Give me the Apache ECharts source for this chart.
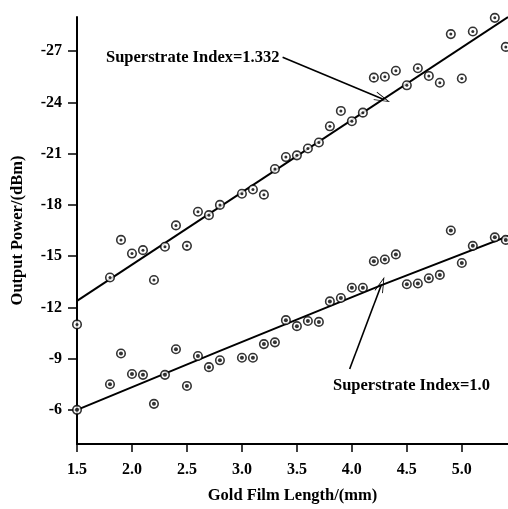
<!DOCTYPE html>
<html>
<head>
<meta charset="utf-8">
<script src="https://cdn.jsdelivr.net/npm/echarts@6/dist/echarts.min.js"></script>
<style>
  html, body { margin: 0; padding: 0; background: #fff; }
  #chart { width: 508px; height: 509px; }
</style>
</head>
<body>
<div id="chart"></div>
<script>
// gold film length (mm), same for both measurements
var lengths = [1.5, 1.8, 1.9, 2.0, 2.1, 2.2, 2.3, 2.4, 2.5, 2.6, 2.7, 2.8, 3.0, 3.1, 3.2, 3.3, 3.4, 3.5, 3.6, 3.7,
    3.8, 3.9, 4.0, 4.1, 4.2, 4.3, 4.4, 4.5, 4.6, 4.7, 4.8, 4.9, 5.0, 5.1, 5.3, 5.4];
// superstrate index 1.332
var powerHigh = [-11.0, -13.75, -15.95, -15.15, -15.35, -13.6, -15.55, -16.8, -15.6, -17.6, -17.4, -18.0, -18.65, -18.9, -18.6, -20.1, -20.8, -20.9, -21.3, -21.65,
    -22.6, -23.5, -22.9, -23.4, -25.45, -25.5, -25.85, -25.0, -26.0, -25.55, -25.15, -28.0, -25.4, -28.15, -28.95, -27.25];
// superstrate index 1.0
var powerLow = [-6.0, -7.5, -9.3, -8.1, -8.05, -6.35, -8.05, -9.55, -7.4, -9.15, -8.5, -8.9, -9.05, -9.05, -9.85, -9.95, -11.25, -10.9, -11.2, -11.15,
    -12.35, -12.55, -13.15, -13.15, -14.7, -14.8, -15.1, -13.35, -13.4, -13.7, -13.9, -16.5, -14.6, -15.6, -16.1, -15.95];

// fitted curves
var fitHighX = [1.5, 5.42];
var fitHighY = [-12.38, -29.0];
var fitLowX = [1.5, 2.8, 4.27, 5.42];
var fitLowY = [-6.0, -9.45, -13.3, -16.17];

var xTicks = [1.5, 2.0, 2.5, 3.0, 3.5, 4.0, 4.5, 5.0];
var yTicks = [-27, -24, -21, -18, -15, -12, -9, -6];

// annotation arrows [from, to]
var arrowHigh = [[3.37, -26.65], [4.28, -24.2]];
var arrowLow = [[3.98, -8.39], [4.27, -13.35]];

function pairs(xs, ys) {
    var out = [];
    for (var i = 0; i < xs.length; i++) {
        out.push([xs[i], ys[i]]);
    }
    return out;
}

var font = 'Liberation Serif';
var titleStyle = { color: '#000', fontFamily: font, fontWeight: 'bold', fontSize: 16.5 };
var arrowPath = 'path://M0,0 L6,16 L4.8,16 L0,3 L-4.8,16 L-6,16 Z';

function ringSeries(data) {
    return {
        type: 'scatter',
        data: data,
        symbol: 'circle',
        symbolSize: 8.5,
        itemStyle: { color: '#fff', borderColor: '#000', borderWidth: 1.6 },
        z: 3
    };
}

function dotSeries(data, size) {
    return {
        type: 'scatter',
        data: data,
        symbol: 'circle',
        symbolSize: size,
        itemStyle: { color: '#000' },
        z: 4
    };
}

function fitSeries(data, arrow) {
    return {
        type: 'line',
        data: data,
        showSymbol: false,
        lineStyle: { color: '#000', width: 2 },
        z: 2,
        markLine: {
            silent: true,
            symbol: ['none', arrowPath],
            symbolSize: [9, 16],
            label: { show: false },
            lineStyle: { color: '#000', width: 1.6, type: 'solid' },
            data: [[{ coord: arrow[0] }, { coord: arrow[1] }]]
        }
    };
}

var chart = echarts.init(document.getElementById('chart'));

var option = {
    animation: false,
    backgroundColor: '#fff',
    grid: { left: 77, right: 0, top: 17, bottom: 63 },
    xAxis: {
        type: 'value',
        min: 1.5,
        max: 5.42,
        name: 'Gold Film Length/(mm)',
        nameLocation: 'middle',
        nameGap: 43,
        nameTextStyle: titleStyle,
        splitLine: { show: false },
        axisLine: { lineStyle: { color: '#000', width: 2 } },
        axisTick: { length: 8, lineStyle: { color: '#000', width: 1.5 }, customValues: xTicks },
        axisLabel: {
            color: '#000', fontFamily: font, fontWeight: 'bold', fontSize: 16, margin: 18,
            customValues: xTicks,
            formatter: function (v) { return v.toFixed(1); }
        }
    },
    yAxis: {
        type: 'value',
        inverse: true,
        min: -29,
        max: -4,
        name: 'Output Power/(dBm)',
        nameLocation: 'middle',
        nameGap: 51,
        nameRotate: 90,
        nameTextStyle: titleStyle,
        splitLine: { show: false },
        axisLine: { lineStyle: { color: '#000', width: 2 } },
        axisTick: { length: 9, lineStyle: { color: '#000', width: 1.5 }, customValues: yTicks },
        axisLabel: {
            color: '#000', fontFamily: font, fontWeight: 'bold', fontSize: 16, margin: 15,
            customValues: yTicks
        }
    },
    graphic: [
        {
            type: 'text', x: 106, y: 58,
            style: { text: 'Superstrate Index=1.332', fill: '#000', fontFamily: font, fontWeight: 'bold', fontSize: 16.5, verticalAlign: 'middle' }
        },
        {
            type: 'text', x: 333, y: 386,
            style: { text: 'Superstrate Index=1.0', fill: '#000', fontFamily: font, fontWeight: 'bold', fontSize: 16.5, verticalAlign: 'middle' }
        }
    ],
    series: [
        fitSeries(pairs(fitHighX, fitHighY), arrowHigh),
        fitSeries(pairs(fitLowX, fitLowY), arrowLow),
        ringSeries(pairs(lengths, powerHigh)),
        dotSeries(pairs(lengths, powerHigh), 3),
        ringSeries(pairs(lengths, powerLow)),
        dotSeries(pairs(lengths, powerLow), 4)
    ]
};

chart.setOption(option);
</script>
</body>
</html>
